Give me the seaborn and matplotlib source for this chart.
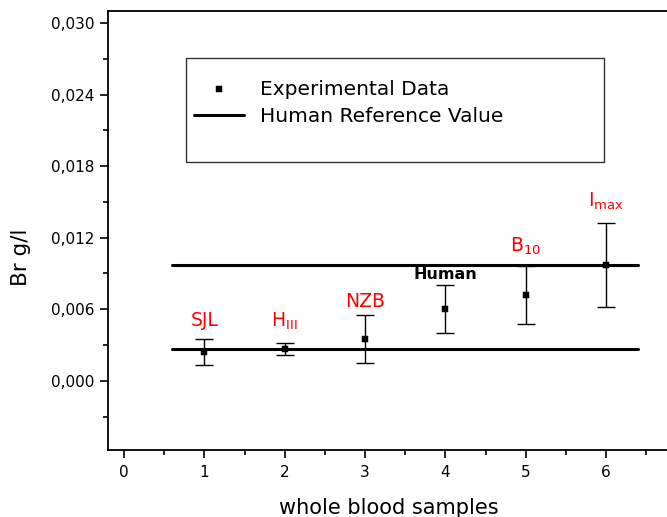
import matplotlib
matplotlib.use('Agg')
import matplotlib.pyplot as plt
import seaborn as sns
from matplotlib.lines import Line2D
from matplotlib.ticker import MultipleLocator, FuncFormatter

# whole blood Br values
sample_x = [1, 2, 3, 4, 5, 6]
br_mean = [0.0024, 0.0027, 0.0035, 0.0060, 0.0072, 0.0097]
br_err = [0.0011, 0.0005, 0.0020, 0.0020, 0.0024, 0.0035]
sample_names = ['SJL', r'H$_{\mathregular{III}}$', 'NZB', 'Human',
                r'B$_{\mathregular{10}}$', r'I$_{\mathregular{max}}$']
label_y = [0.0046, 0.0045, 0.0062, 0.0085, 0.0108, 0.0146]
label_colors = ['red', 'red', 'red', 'black', 'red', 'red']

ref_x = [0.6, 6.4]
ref_values = [0.00264, 0.00972]

sns.set_style('ticks')
plt.rcParams['font.family'] = ['DejaVu Sans']
plt.rcParams['mathtext.fontset'] = 'dejavusans'
plt.rcParams['text.color'] = 'black'
plt.rcParams['axes.labelcolor'] = 'black'

fig = plt.figure(figsize=(6.67, 5.17), dpi=100)
ax = fig.add_axes([0.1619, 0.1296, 0.8456, 0.849])

for i, v in enumerate(ref_values):
    sns.lineplot(x=ref_x, y=[v, v], color='black', lw=2.2, ax=ax,
                 label='Human Reference Value' if i == 0 else None, legend=False)

ax.errorbar(sample_x, br_mean, yerr=br_err, fmt='none', ecolor='black',
            elinewidth=1, capsize=6.5, capthick=1, zorder=2)
sns.scatterplot(x=sample_x, y=br_mean, marker='s', s=18, color='black',
                edgecolor='black', zorder=3, ax=ax, label='Experimental Data', legend=False)

for x, y, name, c in zip(sample_x, label_y, sample_names, label_colors):
    if c == 'black':
        ax.text(x, y, name, ha='center', va='baseline', color=c,
                fontsize=11.5, fontweight='bold')
    else:
        ax.text(x, y, name, ha='center', va='baseline', color=c, fontsize=13.5)

ax.set_xlim(-0.2, 6.82)
ax.set_ylim(-0.0058, 0.031)
ax.xaxis.set_major_locator(MultipleLocator(1))
ax.xaxis.set_minor_locator(MultipleLocator(0.5))
ax.yaxis.set_major_locator(MultipleLocator(0.006))
ax.yaxis.set_minor_locator(MultipleLocator(0.003))
ax.yaxis.set_major_formatter(FuncFormatter(lambda v, p: f'{v:.3f}'.replace('.', ',').replace('-0,000', '0,000')))

ax.tick_params(axis='both', which='major', direction='out', length=6, width=1.2,
               labelsize=11, color='black', labelcolor='black')
ax.tick_params(axis='x', which='major', pad=5)
ax.tick_params(axis='both', which='minor', direction='out', length=3.5, width=1.2, color='black')
ax.tick_params(top=False, right=False, which='both')

for side in ['left', 'bottom', 'top']:
    ax.spines[side].set_linewidth(1.3)
    ax.spines[side].set_color('black')
ax.spines['right'].set_visible(False)

ax.set_xlabel('whole blood samples', fontsize=15)
ax.set_ylabel('Br g/l', fontsize=15.5)
ax.xaxis.set_label_coords(0.498, -0.11)
ax.yaxis.set_label_coords(-0.137, 0.44)

handles, labels = ax.get_legend_handles_labels()
order = [labels.index('Experimental Data'), labels.index('Human Reference Value')]
handles = [handles[i] for i in order] + [Line2D([], [], linestyle='none')]
labels = [labels[i] for i in order] + [' ']
leg = ax.legend(handles, labels, loc='upper left', bbox_to_anchor=(0.138, 0.654, 0.741, 0.239),
                mode='expand', borderaxespad=0, fontsize=14.5, frameon=True, fancybox=False,
                edgecolor='black', handlelength=2.5, handletextpad=0.8, labelspacing=0.42,
                borderpad=0.4, markerscale=1.0, title=' ', title_fontsize=4.5)
leg.get_frame().set_linewidth(1.0)

fig.savefig('out.png', dpi=100)
